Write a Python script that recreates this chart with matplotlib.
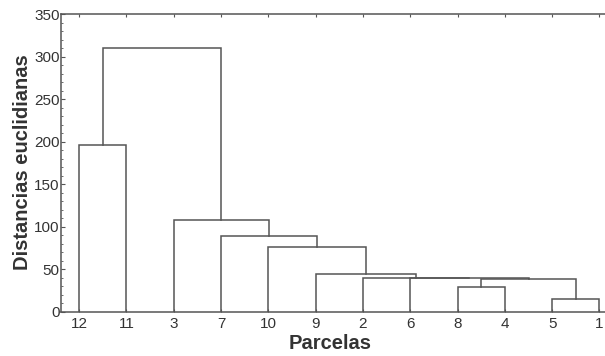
import matplotlib
matplotlib.use("Agg")
import matplotlib.pyplot as plt
from matplotlib.ticker import MultipleLocator

plt.rcParams['font.family'] = ['Liberation Sans', 'DejaVu Sans']

# leaf order along the x axis
leaves = ['12', '11', '3', '7', '10', '9', '2', '6', '8', '4', '5', '1']

# merges: node ids 0..11 are the leaves (by position), each merge makes a new node 12, 13, ...
link_a = [10, 8, 13, 7, 6, 5, 4, 3, 2, 0, 21]
link_b = [11, 9, 12, 14, 15, 16, 17, 18, 19, 1, 20]
link_h = [15, 29.5, 38.8, 39.7, 40.5, 45, 77, 89, 108, 196, 311]

line_col = '#555555'
text_col = '#333333'

fig = plt.figure(figsize=(6.05, 3.56), dpi=100)
ax = fig.add_axes([0.1008, 0.1236, 0.92, 0.836])

# positions/heights of each node
node_x = [i + 1 for i in range(len(leaves))]
node_h = [0.0] * len(leaves)
for a, b, h in zip(link_a, link_b, link_h):
    xa, xb = node_x[a], node_x[b]
    ax.plot([xa, xa, xb, xb], [node_h[a], h, h, node_h[b]],
            color=line_col, lw=1.1, solid_joinstyle='miter')
    node_x.append((xa + xb) / 2)
    node_h.append(h)

ax.set_xlim(0.617, 12.383)
ax.set_ylim(0, 350)

ax.set_xticks(range(1, len(leaves) + 1))
ax.set_xticklabels(leaves)
ax.yaxis.set_major_locator(MultipleLocator(50))
ax.yaxis.set_minor_locator(MultipleLocator(10))

ax.tick_params(axis='both', which='both', direction='in', colors=line_col,
               top=True, right=True, labelcolor=text_col, labelsize=11)
ax.tick_params(axis='x', which='major', length=2.5, width=0.8, pad=3.5)
ax.tick_params(axis='y', which='major', length=3, width=0.8, pad=1)
ax.tick_params(axis='y', which='minor', length=1.5, width=0.6)

for sp in ax.spines.values():
    sp.set_color(line_col)
    sp.set_linewidth(1.1)

ax.set_ylabel('Distancias euclidianas', fontsize=14.5, fontweight='bold', color=text_col)
ax.yaxis.set_label_coords(-0.052, 0.504)
ax.set_xlabel('Parcelas', fontsize=14.5, fontweight='bold', color=text_col)
ax.xaxis.set_label_coords(0.483, -0.075)

fig.savefig('out.png', dpi=100)
